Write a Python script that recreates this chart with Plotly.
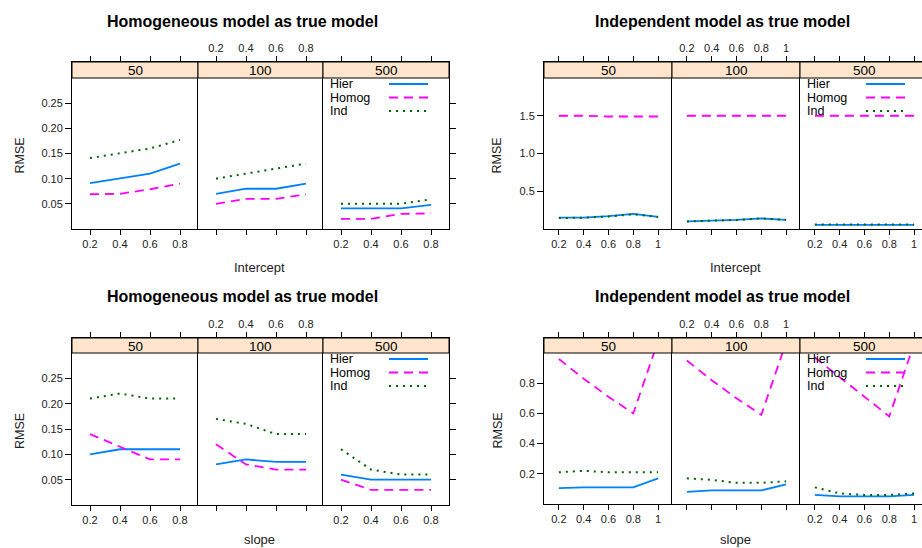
import plotly.graph_objects as go

# ---------------- data ----------------
sample_sizes = ["50", "100", "500"]
methods = ["Hier", "Homog", "Ind"]

x_hom_true = [0.2, 0.4, 0.6, 0.8]
x_ind_true = [0.2, 0.4, 0.6, 0.8, 1.0]

# Homogeneous model as true model - Intercept
hom_int_hier = [[0.091, 0.100, 0.110, 0.130], [0.070, 0.080, 0.080, 0.090], [0.041, 0.041, 0.041, 0.048]]
hom_int_homog = [[0.069, 0.070, 0.079, 0.090], [0.050, 0.060, 0.060, 0.069], [0.020, 0.020, 0.030, 0.031]]
hom_int_ind = [[0.141, 0.150, 0.160, 0.177], [0.100, 0.110, 0.120, 0.130], [0.050, 0.050, 0.050, 0.059]]

# Independent model as true model - Intercept
ind_int_hier = [[0.15, 0.15, 0.17, 0.20, 0.16], [0.10, 0.11, 0.12, 0.14, 0.12], [0.055, 0.055, 0.055, 0.055, 0.055]]
ind_int_homog = [[1.50, 1.50, 1.49, 1.49, 1.49], [1.50, 1.50, 1.50, 1.50, 1.50], [1.50, 1.50, 1.50, 1.50, 1.50]]
ind_int_ind = [[0.145, 0.15, 0.165, 0.195, 0.16], [0.10, 0.11, 0.12, 0.14, 0.12], [0.06, 0.06, 0.06, 0.06, 0.06]]

# Homogeneous model as true model - slope
hom_slp_hier = [[0.10, 0.11, 0.11, 0.11], [0.08, 0.09, 0.085, 0.085], [0.06, 0.05, 0.05, 0.05]]
hom_slp_homog = [[0.14, 0.115, 0.09, 0.09], [0.12, 0.08, 0.07, 0.07], [0.05, 0.03, 0.03, 0.03]]
hom_slp_ind = [[0.21, 0.22, 0.21, 0.21], [0.17, 0.16, 0.14, 0.14], [0.11, 0.07, 0.06, 0.06]]

# Independent model as true model - slope
ind_slp_hier = [[0.105, 0.11, 0.11, 0.11, 0.17], [0.08, 0.09, 0.09, 0.09, 0.13], [0.06, 0.05, 0.05, 0.05, 0.06]]
ind_slp_homog = [[0.96, 0.83, 0.71, 0.60, 1.08], [0.95, 0.82, 0.70, 0.59, 1.07], [0.97, 0.84, 0.71, 0.58, 1.06]]
ind_slp_ind = [[0.21, 0.22, 0.21, 0.21, 0.21], [0.17, 0.16, 0.14, 0.14, 0.15], [0.11, 0.07, 0.06, 0.06, 0.07]]

hom_yticks = [0.05, 0.10, 0.15, 0.20, 0.25]
hom_yticklabels = ["0.05", "0.10", "0.15", "0.20", "0.25"]
ind_int_yticks = [0.5, 1.0, 1.5]
ind_int_yticklabels = ["0.5", "1.0", "1.5"]
ind_slp_yticks = [0.2, 0.4, 0.6, 0.8]
ind_slp_yticklabels = ["0.2", "0.4", "0.6", "0.8"]
hom_xticklabels = ["0.2", "0.4", "0.6", "0.8"]
ind_xticklabels = ["0.2", "0.4", "0.6", "0.8", "1"]

# ---------------- styles / layout ----------------
W, H = 922, 548
FONT = "Liberation Sans, Arial, sans-serif"
STYLE = {
    "Hier": dict(color="#0080ff", dash="solid", width=1.8),
    "Homog": dict(color="#ff00ff", dash="9px,6px", width=1.8),
    "Ind": dict(color="#006400", dash="2px,5px", width=2.0),
}

def fx(px):
    return px / W

def fy(py):
    return 1 - py / H

panels = [
    dict(title="Homogeneous model as true model", xlabel="Intercept", x=x_hom_true,
         data=(hom_int_hier, hom_int_homog, hom_int_ind), xtl=hom_xticklabels,
         edges=[72, 198, 323, 449], st=62, sb=78, pb=229, yr=(0.0, 0.30),
         yt=hom_yticks, ytl=hom_yticklabels, xr0=0.08, upp=150,
         ty=21, tx=243, xly=267, ylx=20),
    dict(title="Independent model as true model", xlabel="Intercept", x=x_ind_true,
         data=(ind_int_hier, ind_int_homog, ind_int_ind), xtl=ind_xticklabels,
         edges=[544, 672, 800, 928], st=62, sb=78, pb=229, yr=(0.0, 2.0),
         yt=ind_int_yticks, ytl=ind_int_yticklabels, xr0=0.08, upp=124,
         ty=21, tx=722, xly=267, ylx=497),
    dict(title="Homogeneous model as true model", xlabel="slope", x=x_hom_true,
         data=(hom_slp_hier, hom_slp_homog, hom_slp_ind), xtl=hom_xticklabels,
         edges=[72, 198, 323, 449], st=338, sb=353, pb=505, yr=(0.0, 0.30),
         yt=hom_yticks, ytl=hom_yticklabels, xr0=0.08, upp=150,
         ty=296, tx=243, xly=539.5, ylx=20),
    dict(title="Independent model as true model", xlabel="slope", x=x_ind_true,
         data=(ind_slp_hier, ind_slp_homog, ind_slp_ind), xtl=ind_xticklabels,
         edges=[544, 672, 800, 928], st=338, sb=353, pb=504, yr=(0.0, 1.0),
         yt=ind_slp_yticks, ytl=ind_slp_yticklabels, xr0=0.08, upp=124,
         ty=296, tx=722, xly=539.5, ylx=497),
]

fig = go.Figure()
layout = {}
shapes = []
annotations = []
tickfont = dict(family=FONT, size=11, color="#222")

n = 0
for P in panels:
    y0, y1 = P["yr"]
    ext = (P["sb"] - P["st"]) * (y1 - y0) / (P["pb"] - P["sb"])
    yrange = [y0, y1 + ext]
    for k in range(3):
        n += 1
        left, right = P["edges"][k], P["edges"][k + 1]
        right_c = min(right, W)
        xr0 = P["xr0"]
        xr1 = xr0 + (right_c - left) / P["upp"]
        xa = f"xaxis{n}" if n > 1 else "xaxis"
        ya = f"yaxis{n}" if n > 1 else "yaxis"
        xref = f"x{n}" if n > 1 else "x"
        yref = f"y{n}" if n > 1 else "y"
        for m, series in zip(methods, P["data"]):
            st = STYLE[m]
            fig.add_trace(go.Scatter(
                x=P["x"], y=series[k], mode="lines", name=m, showlegend=False,
                line=dict(color=st["color"], dash=st["dash"], width=st["width"]),
                xaxis=xref, yaxis=yref, hoverinfo="skip"))
        layout[xa] = dict(
            domain=[fx(left), fx(right_c)], range=[xr0, xr1], anchor=yref,
            tickmode="array", tickvals=P["x"], ticktext=P["xtl"],
            ticks="outside", ticklen=5, tickcolor="black", tickwidth=1,
            showline=True, linecolor="black", linewidth=1,
            mirror="allticks", showgrid=False, zeroline=False,
            side="top" if k == 1 else "bottom", tickfont=tickfont,
            fixedrange=True)
        yax = dict(
            domain=[fy(P["pb"]), fy(P["st"])], range=yrange, anchor=xref,
            showgrid=False, zeroline=False, showline=True, linecolor="black",
            linewidth=1, tickmode="array", tickvals=P["yt"], ticktext=P["ytl"],
            tickfont=tickfont, fixedrange=True, side="left", mirror=False)
        if k == 0:
            yax.update(ticks="outside", ticklen=6, tickcolor="black", showticklabels=True)
        elif k == 1:
            yax.update(ticks="", showticklabels=False)
        else:
            if right <= W:
                yax.update(ticks="outside", ticklen=6, tickcolor="black", side="right",
                           mirror=True, showticklabels=False)
            else:
                yax.update(ticks="", showticklabels=False)
        layout[ya] = yax
        # strip
        shapes.append(dict(type="rect", xref="paper", yref="paper",
                           x0=fx(left), x1=fx(right) if right <= W else 1.02,
                           y0=fy(P["sb"]), y1=fy(P["st"]),
                           fillcolor="#ffe5cc", line=dict(color="black", width=1),
                           layer="above"))
        annotations.append(dict(text=sample_sizes[k], xref="paper", yref="paper",
                                x=fx((left + right) / 2), y=fy((P["st"] + P["sb"]) / 2 + 0.5),
                                showarrow=False, xanchor="center", yanchor="middle",
                                font=dict(family=FONT, size=13.5, color="black")))
    # legend in third sub-panel
    lx = P["edges"][2] + 6
    for i, m in enumerate(methods):
        ly = P["sb"] + 6 + i * 13.5
        annotations.append(dict(text=m, xref="paper", yref="paper", x=fx(lx), y=fy(ly),
                                showarrow=False, xanchor="left", yanchor="middle",
                                borderpad=0,
                                font=dict(family=FONT, size=12.5, color="black")))
        st = STYLE[m]
        shapes.append(dict(type="line", xref="paper", yref="paper",
                           x0=fx(P["edges"][2] + 66), x1=fx(P["edges"][2] + 105),
                           y0=fy(ly), y1=fy(ly),
                           line=dict(color=st["color"], dash=st["dash"], width=st["width"]),
                           layer="above"))
    # title, axis labels
    annotations.append(dict(text=f"<b>{P['title']}</b>", xref="paper", yref="paper",
                            x=fx(P["tx"]), y=fy(P["ty"]), showarrow=False,
                            xanchor="center", yanchor="middle",
                            font=dict(family=FONT, size=16, color="black")))
    annotations.append(dict(text=P["xlabel"], xref="paper", yref="paper",
                            x=fx((P["edges"][0] + P["edges"][3]) / 2 - 1), y=fy(P["xly"]),
                            showarrow=False, xanchor="center", yanchor="middle",
                            font=dict(family=FONT, size=13, color="#222")))
    annotations.append(dict(text="RMSE", xref="paper", yref="paper",
                            x=fx(P["ylx"]), y=fy((P["sb"] + P["pb"]) / 2 + 2),
                            showarrow=False, xanchor="center", yanchor="middle",
                            textangle=-90, font=dict(family=FONT, size=12.5, color="#222")))

fig.update_layout(
    width=W, height=H, margin=dict(l=0, r=0, t=0, b=0),
    paper_bgcolor="white", plot_bgcolor="white",
    showlegend=False, shapes=shapes, annotations=annotations,
    **layout)

fig.write_html("out.html", config={"displayModeBar": False},
               post_script="document.body.style.margin='0px';document.body.style.overflow='hidden';")
